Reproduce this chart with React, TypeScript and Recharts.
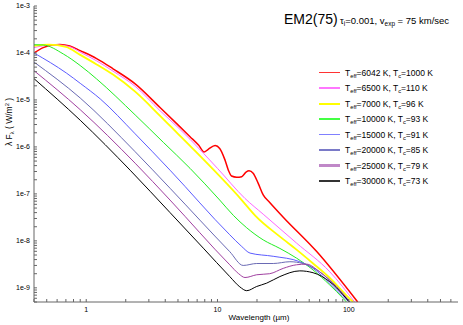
import React from 'react';
import { LineChart, Line, XAxis, YAxis } from 'recharts';

// wavelength (µm) and lambda*F_lambda (W/m^2), one pair of arrays per model
const redLambda = [0.4, 0.47, 0.55, 0.63, 0.75, 0.9, 1.2, 1.6, 2.36, 3.65, 5.0, 6.18, 7.2, 7.9, 8.5, 9.6, 10.4, 11.4, 12.1, 12.8, 14.0, 15.3, 16.5, 17.4, 18.7, 20.4, 22.3, 25, 31.7, 56.8, 117];
const redFlux = [1.0e-4, 1.3e-4, 1.48e-4, 1.52e-4, 1.41e-4, 1.12e-4, 7.6e-5, 4.6e-5, 2.2e-5, 6.9e-6, 2.95e-6, 1.65e-6, 1.08e-6, 7.8e-7, 8.9e-7, 1.07e-6, 9.3e-7, 5.3e-7, 3.2e-7, 2.4e-7, 2.26e-7, 2.33e-7, 2.9e-7, 3.1e-7, 2.75e-7, 1.7e-7, 9.5e-8, 6.6e-8, 3.2e-8, 6.0e-9, 5e-10];

const pinkLambda = [0.4, 0.57, 0.75, 0.9, 1.2, 1.6, 2.36, 3.65, 5.0, 6.18, 10, 16.2, 22.3, 40, 71.7, 111];
const pinkFlux = [1.3e-4, 1.5e-4, 1.36e-4, 1.04e-4, 6.8e-5, 4.1e-5, 1.95e-5, 5.9e-6, 2.6e-6, 1.45e-6, 3.5e-7, 8.0e-8, 3.7e-8, 9.0e-9, 2.2e-9, 5e-10];

const yellowLambda = [0.4, 0.52, 0.7, 0.9, 1.2, 1.6, 2.36, 3.65, 5.0, 6.18, 15.3, 19.3, 29.9, 40, 53.5, 71.7, 95, 108];
const yellowFlux = [1.42e-4, 1.5e-4, 1.35e-4, 9.1e-5, 5.7e-5, 3.47e-5, 1.5e-5, 4.6e-6, 1.9e-6, 1.05e-6, 7.4e-8, 3.5e-8, 1.23e-8, 6.5e-9, 3.3e-9, 1.62e-9, 7.1e-10, 5e-10];

const greenLambda = [0.4, 0.47, 0.67, 0.9, 1.2, 2.36, 3.87, 6.18, 10.4, 13.2, 16.7, 22.3, 29.9, 40, 53.5, 71.7, 90.5, 96];
const greenFlux = [1.5e-4, 1.48e-4, 9.5e-5, 5.4e-5, 2.8e-5, 4.8e-6, 1.25e-6, 3.5e-7, 7.4e-8, 3.5e-8, 1.9e-8, 1.05e-8, 6.9e-9, 4.3e-9, 2.4e-9, 1.15e-9, 6.0e-10, 5e-10];

const blueLambda = [0.4, 0.71, 0.9, 1.28, 2.36, 4.35, 12.4, 15.3, 17.7, 26.6, 42.4, 53.5, 71.7, 90.5, 104];
const blueFlux = [1.0e-4, 3.7e-5, 2.26e-5, 1.05e-5, 1.9e-6, 3.2e-7, 1.35e-8, 7.6e-9, 5.5e-9, 4.7e-9, 3.6e-9, 2.6e-9, 1.25e-9, 6.5e-10, 4.6e-10];

const slateLambda = [0.4, 0.9, 2.36, 4.35, 12.4, 15.7, 19.9, 26.6, 35.6, 44.8, 60, 80, 104];
const slateFlux = [6.4e-5, 1.1e-5, 7.9e-7, 1.32e-7, 5.9e-9, 3.0e-9, 3.3e-9, 3.3e-9, 3.6e-9, 3.3e-9, 2.2e-9, 1.05e-9, 4.6e-10];

const purpleLambda = [0.4, 0.9, 2.36, 4.35, 12.4, 14.5, 16.2, 19.9, 25, 31.7, 40, 47.7, 60, 80.6, 105];
const purpleFlux = [4.2e-5, 6.2e-6, 4.5e-7, 7.4e-8, 3.1e-9, 2.0e-9, 1.66e-9, 1.9e-9, 2.0e-9, 2.6e-9, 3.1e-9, 3.2e-9, 2.2e-9, 1.07e-9, 4.6e-10];

const blackLambda = [0.4, 0.9, 2.16, 4.35, 7.8, 12.4, 14.8, 16.7, 19.9, 23.7, 29.9, 42.4, 53.5, 71.7, 90.5, 101];
const blackFlux = [2.84e-5, 3.7e-6, 3.2e-7, 4.0e-8, 7.0e-9, 1.74e-9, 1.05e-9, 8.7e-10, 1.07e-9, 1.26e-9, 1.74e-9, 2.3e-9, 2.1e-9, 1.35e-9, 7.1e-10, 5e-10];

// legend labels
const teffLabels = ['6042', '6500', '7000', '10000', '15000', '20000', '25000', '30000'];
const tcLabels = ['1000', '110', '96', '93', '91', '85', '79', '73'];

// axis ticks
const xMajorTicks = [1, 10, 100];
const xTickLabels = ['1', '10', '100'];
const yMajorTicks = [1e-3, 1e-4, 1e-5, 1e-6, 1e-7, 1e-8, 1e-9];
const yTickLabels = ['1e-3', '1e-4', '1e-5', '1e-6', '1e-7', '1e-8', '1e-9'];
const minorSteps = [2, 3, 4, 5, 6, 7, 8, 9];

const X_DOMAIN = [0.4, 680];
const Y_DOMAIN = [5e-10, 1e-3];
const FONT = '"Liberation Sans", Arial, Helvetica, sans-serif';
const AXIS_COLOR = '#666';

const toPoints = (lambda: number[], flux: number[]) =>
  lambda.map((l, i) => ({ lambda: l, flux: flux[i] }));

const series = [
  { key: 'm6042', color: '#ff0000', legendColor: '#ff3333', width: 1.5, legendWidth: 1.5, data: toPoints(redLambda, redFlux) },
  { key: 'm6500', color: '#ff66ff', legendColor: '#ff77ff', width: 1, legendWidth: 1.2, data: toPoints(pinkLambda, pinkFlux) },
  { key: 'm7000', color: '#ffff00', legendColor: '#ffff00', width: 1.8, legendWidth: 2, data: toPoints(yellowLambda, yellowFlux) },
  { key: 'm10000', color: '#22ee22', legendColor: '#44ff44', width: 1, legendWidth: 1.2, data: toPoints(greenLambda, greenFlux) },
  { key: 'm15000', color: '#5c5cff', legendColor: '#8080ff', width: 1, legendWidth: 1.2, data: toPoints(blueLambda, blueFlux) },
  { key: 'm20000', color: '#6a6ab4', legendColor: '#7a7ac8', width: 1, legendWidth: 1.2, data: toPoints(slateLambda, slateFlux) },
  { key: 'm25000', color: '#a040a0', legendColor: '#c088c8', width: 1, legendWidth: 2.5, data: toPoints(purpleLambda, purpleFlux) },
  { key: 'm30000', color: '#000000', legendColor: '#333333', width: 1, legendWidth: 1.2, data: toPoints(blackLambda, blackFlux) },
];

// log ticks: decades plus 2..9 in between, kept inside the domain
const withMinor = (majors: number[], lo: number, hi: number) => {
  const out: number[] = [];
  [...majors, majors[majors.length - 1] / 10].forEach((m) => {
    out.push(m);
    minorSteps.forEach((k) => out.push(m * k));
  });
  [0.1, 1000].forEach((m) => minorSteps.forEach((k) => out.push(m * k)));
  return Array.from(new Set(out.map((v) => Number(v.toPrecision(3)))))
    .filter((v) => v >= lo * 0.999 && v <= hi * 1.001)
    .sort((a, b) => a - b);
};

const xTicks = withMinor(xMajorTicks, X_DOMAIN[0], X_DOMAIN[1]);
const yTicks = withMinor(yMajorTicks, Y_DOMAIN[0], Y_DOMAIN[1]);

const labelFor = (v: number, majors: number[], labels: string[]) => {
  const i = majors.findIndex((m) => Math.abs(v - m) / m < 1e-6);
  return i >= 0 ? labels[i] : '';
};

const Sub = ({ children }: { children: React.ReactNode }) => (
  <span style={{ fontSize: '0.68em', position: 'relative', top: '0.35em' }}>{children}</span>
);

const Sup = ({ children }: { children: React.ReactNode }) => (
  <span style={{ fontSize: '0.68em', position: 'relative', top: '-0.45em' }}>{children}</span>
);

const legendTop = 66.5;
const legendStep = 15.5;

export default function App() {
  return (
    <div style={{ position: 'absolute', left: 0, top: 0, width: 463, height: 325, background: '#fff', fontFamily: FONT }}>
      <LineChart width={463} height={325} margin={{ top: 6, right: 5, bottom: 0, left: 0 }}>
        <XAxis
          xAxisId="b"
          type="number"
          dataKey="lambda"
          scale="log"
          domain={X_DOMAIN}
          allowDataOverflow
          ticks={xTicks}
          interval={0}
          height={23}
          tickSize={-3}
          tickMargin={8}
          stroke={AXIS_COLOR}
          tick={{ fontSize: 7, fill: '#000', fontFamily: FONT }}
          tickFormatter={(v: number) => labelFor(v, xMajorTicks, xTickLabels)}
        />
        <XAxis
          xAxisId="t"
          orientation="top"
          type="number"
          scale="log"
          domain={X_DOMAIN}
          allowDataOverflow
          ticks={xTicks}
          interval={0}
          height={0}
          tickSize={-3}
          stroke={AXIS_COLOR}
          tick={false}
        />
        <YAxis
          yAxisId="l"
          type="number"
          dataKey="flux"
          scale="log"
          domain={Y_DOMAIN}
          allowDataOverflow
          ticks={yTicks}
          interval={0}
          width={34}
          tickSize={-3}
          tickMargin={7}
          stroke={AXIS_COLOR}
          tick={{ fontSize: 7, fill: '#000', fontFamily: FONT }}
          tickFormatter={(v: number) => labelFor(v, yMajorTicks, yTickLabels)}
        />
        <YAxis
          yAxisId="r"
          orientation="right"
          type="number"
          scale="log"
          domain={Y_DOMAIN}
          allowDataOverflow
          ticks={yTicks}
          interval={0}
          width={0}
          tickSize={-3}
          stroke={AXIS_COLOR}
          tick={false}
        />
        {series.map((s) => (
          <Line
            key={s.key}
            xAxisId="b"
            yAxisId="l"
            data={s.data}
            dataKey="flux"
            type="monotone"
            stroke={s.color}
            strokeWidth={s.width}
            dot={false}
            activeDot={false}
            isAnimationActive={false}
          />
        ))}
      </LineChart>

      {/* title */}
      <div style={{ position: 'absolute', left: 284, top: 11, fontSize: 14, whiteSpace: 'nowrap', lineHeight: '16px' }}>EM2(75)</div>
      <div style={{ position: 'absolute', left: 340, top: 15, fontSize: 9.5, whiteSpace: 'nowrap', lineHeight: '11px' }}>
        τ<Sub>i</Sub>=0.001, v<Sub>exp</Sub> = 75 km/sec
      </div>

      {/* legend */}
      {series.map((s, i) => (
        <div
          key={s.key}
          style={{
            position: 'absolute',
            left: 319,
            top: legendTop + i * legendStep,
            height: 12,
            display: 'flex',
            alignItems: 'center',
            whiteSpace: 'nowrap',
            fontSize: 8.5,
          }}
        >
          <div style={{ width: 21, height: s.legendWidth, background: s.legendColor, marginRight: 5 }} />
          <span>
            T<Sub>eff</Sub>={teffLabels[i]} K, T<Sub>c</Sub>={tcLabels[i]} K
          </span>
        </div>
      ))}

      {/* axis titles */}
      <div
        style={{
          position: 'absolute',
          left: 9,
          top: 122,
          transform: 'translate(-50%, -50%) rotate(-90deg)',
          fontSize: 8.5,
          whiteSpace: 'nowrap',
        }}
      >
        λ F<Sub>λ</Sub> ( W/m<Sup>2</Sup> )
      </div>
      <div
        style={{
          position: 'absolute',
          left: 259,
          top: 317,
          transform: 'translate(-50%, -50%)',
          fontSize: 8,
          whiteSpace: 'nowrap',
        }}
      >
        Wavelength (µm)
      </div>
    </div>
  );
}
